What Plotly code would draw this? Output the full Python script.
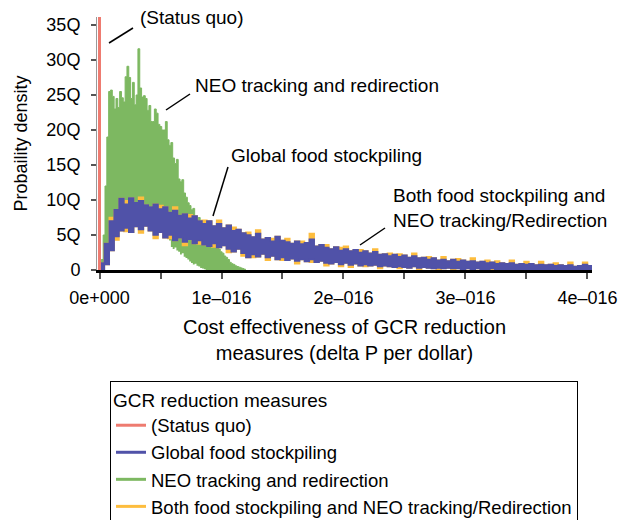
import plotly.graph_objects as go

# ---------------- data (density in units of Q = 1e15) ----------------
# Histogram bins: cost effectiveness (delta P per dollar)
neo_bin_start = 0.0
neo_bin_width = 1.5e-18
food_bin_start = 0.0
food_bin_width = 4e-18

# NEO tracking and redirection: upper / lower envelope of the jagged density
neo_upper = [0.3, 1.5, 5.0, 12.0, 19.0, 25.5, 25.7, 24.8, 23.0, 24.5,
             23.2, 25.5, 24.6, 24.0, 27.6, 29.1, 27.5, 24.5, 26.8, 23.6,
             25.0, 31.6, 26.0, 24.7, 24.9, 24.5, 22.8, 23.5, 21.2, 21.2,
             23.0, 22.4, 20.8, 20.5, 20.0, 20.0, 21.2, 18.6, 17.8, 18.2,
             16.0, 15.2, 15.8, 13.0, 12.6, 12.9, 11.0, 10.4, 9.6, 9.2,
             8.6, 8.8, 7.6, 7.2, 7.5, 6.8, 7.0, 6.2, 5.5, 5.2,
             4.8, 4.5, 4.8, 4.3, 3.3, 3.0, 2.6, 2.4, 2.0, 1.8,
             1.5, 1.1, 0.9, 0.8, 0.6, 0.5, 0.4, 0.3, 0.2, 0.1]
neo_lower = [0.0, 0.0, 0.0, 0.8, 1.0, 3.0, 3.0, 3.2, 5.0, 5.2,
             6.5, 6.8, 7.0, 6.8, 7.0, 7.0, 6.8, 7.0, 7.0, 6.8,
             7.0, 7.0, 7.0, 6.8, 6.8, 6.6, 6.6, 6.5, 6.3, 6.2,
             6.0, 6.0, 6.0, 6.0, 5.8, 5.8, 5.6, 5.6, 4.2, 3.3,
             3.0, 3.2, 2.8, 2.6, 2.2, 2.4, 1.9, 1.7, 1.5, 1.2,
             1.0, 0.8, 0.9, 0.6, 0.5, 0.3, 0.2, 0.1, 0.0, 0.0,
             0.0, 0.0, 0.0, 0.0, 0.0, 0.0, 0.0, 0.0, 0.0, 0.0,
             0.0, 0.0, 0.0, 0.0, 0.0, 0.0, 0.0, 0.0, 0.0, 0.0]

# Global food stockpiling
food_upper = [1.0, 3.8, 7.0, 8.6, 10.2, 9.4, 10.3, 9.6, 9.9, 9.3,
              9.0, 9.4, 8.7, 9.0, 8.2, 8.5, 7.8, 8.0, 7.4, 7.7,
              7.0, 6.6, 7.0, 6.3, 6.6, 6.0, 6.4, 5.6, 5.8, 5.3,
              5.0, 4.7, 5.2, 4.4, 4.6, 4.1, 4.8, 4.2, 4.0, 3.8,
              4.1, 3.7, 3.9, 4.4, 3.4, 3.6, 3.2, 3.0, 3.3, 2.8,
              3.0, 2.7, 2.9, 2.5, 2.7, 2.4, 2.6, 2.2, 2.3, 2.0,
              2.2, 1.9, 2.1, 1.8, 2.0, 1.7, 1.8, 1.5, 1.7, 1.4,
              1.5, 1.3, 1.5, 1.2, 1.4, 1.2, 1.3, 1.1, 1.2, 1.0,
              1.1, 0.9, 1.0, 0.9, 1.0, 0.8, 0.9, 0.8, 0.9, 0.7,
              0.8, 0.7, 0.8, 0.6, 0.7, 0.6, 0.7, 0.5, 0.6, 0.8,
              0.6]
food_lower = [0.0, 0.8, 2.8, 4.8, 5.6, 6.0, 5.4, 6.2, 5.8, 6.3,
              5.6, 5.0, 5.4, 4.6, 5.0, 4.2, 4.6, 4.0, 4.4, 3.8,
              4.2, 3.6, 3.4, 3.8, 3.2, 3.5, 3.0, 2.6, 3.0, 2.4,
              1.8, 2.2, 1.9, 2.3, 1.8, 2.0, 1.5, 1.8, 1.4, 1.6,
              1.3, 1.5, 1.2, 1.5, 1.1, 1.3, 1.0, 0.9, 1.1, 0.8,
              1.0, 0.7, 0.9, 0.6, 0.8, 0.6, 0.7, 0.5, 0.6, 0.5,
              0.4, 0.5, 0.4, 0.3, 0.5, 0.3, 0.4, 0.3, 0.2, 0.3,
              0.2, 0.3, 0.2, 0.2, 0.1, 0.2, 0.1, 0.2, 0.1, 0.1,
              0.2, 0.1, 0.1, 0.0, 0.1, 0.0, 0.1, 0.0, 0.1, 0.0,
              0.1, 0.0, 0.0, 0.0, 0.1, 0.0, 0.0, 0.0, 0.0, 0.0,
              0.0]

# Both food stockpiling and NEO tracking/Redirection
both_upper = [1.0, 3.8, 7.5, 8.6, 10.2, 9.9, 10.3, 9.6, 10.4, 9.3,
              9.0, 9.4, 9.2, 9.0, 8.2, 9.0, 7.8, 8.0, 7.9, 7.7,
              7.0, 7.1, 7.0, 6.3, 7.1, 6.0, 6.4, 6.1, 5.8, 5.3,
              5.4, 4.7, 5.7, 4.4, 4.6, 4.5, 4.8, 4.2, 4.5, 3.8,
              4.1, 4.1, 3.9, 5.2, 3.4, 3.6, 3.6, 3.0, 3.3, 3.2,
              3.4, 2.7, 2.9, 2.9, 2.7, 2.4, 3.0, 2.2, 2.3, 2.4,
              2.2, 2.3, 2.1, 1.8, 2.4, 1.7, 1.8, 1.9, 1.7, 1.4,
              1.9, 1.3, 1.5, 1.6, 1.4, 1.2, 1.7, 1.1, 1.2, 1.4,
              1.1, 1.3, 1.0, 0.9, 1.4, 0.8, 0.9, 1.2, 0.9, 0.7,
              1.2, 0.7, 0.8, 1.0, 0.7, 0.6, 1.1, 0.5, 0.6, 1.1,
              0.6]
both_lower = [0.0, 0.8, 2.8, 4.3, 5.6, 5.5, 5.4, 6.2, 5.3, 6.3,
              5.6, 4.5, 5.4, 4.6, 4.5, 4.2, 4.6, 3.5, 4.4, 3.8,
              3.7, 3.6, 3.4, 3.3, 3.2, 3.5, 2.5, 2.6, 3.0, 2.0,
              1.8, 1.8, 1.9, 2.3, 1.4, 2.0, 1.5, 1.4, 1.4, 1.6,
              0.9, 1.5, 1.2, 1.1, 1.1, 1.3, 0.6, 0.9, 1.1, 0.5,
              1.0, 0.4, 0.9, 0.6, 0.5, 0.6, 0.7, 0.2, 0.6, 0.5,
              0.4, 0.2, 0.4, 0.3, 0.5, 0.0, 0.4, 0.3, 0.2, 0.0,
              0.2, 0.3, 0.0, 0.2, 0.1, 0.2, 0.0, 0.2, 0.1, 0.1,
              0.0, 0.1, 0.1, 0.0, 0.1, 0.0, 0.0, 0.0, 0.1, 0.0,
              0.1, 0.0, 0.0, 0.0, 0.0, 0.0, 0.0, 0.0, 0.0, 0.0,
              0.0]

# Status quo: all mass at zero cost effectiveness (density off the scale)
status_quo_value = 0.0
status_quo_density = [0.0, 1000.0]

series_names = ["(Status quo)", "Global food stockpiling",
                "NEO tracking and redirection",
                "Both food stockpiling and NEO tracking/Redirection"]
y_tick_values = [0, 5, 10, 15, 20, 25, 30, 35]
y_tick_labels = ["0", "5Q", "10Q", "15Q", "20Q", "25Q", "30Q", "35Q"]
x_tick_values = [0.0, 0.5e-16, 1e-16, 1.5e-16, 2e-16, 2.5e-16, 3e-16, 3.5e-16, 4e-16]
x_tick_labels = ["0e+000", "", "1e\u2013016", "", "2e\u2013016", "", "3e\u2013016", "", "4e\u2013016"]

# ---------------- styling ----------------
C_RED = "#EE7B70"
C_BLUE = "#5052A8"
C_GREEN = "#7DB861"
C_ORANGE = "#FDBD3E"
FONT = "Liberation Sans, Arial, Helvetica, sans-serif"

W, H = 618, 520
ML, MR, MT, MB = 97, 26, 17, 250
PW, PH = W - ML - MR, H - MT - MB


def px2paper(px, py):
    return (px - ML) / PW, (H - MB - py) / PH


def steps(values, start, width):
    xs = [start + i * width for i in range(len(values) + 1)]
    ys = list(values) + [values[-1]]
    return xs, ys


fig = go.Figure()


def band(lower, upper, start, width, color, lw_low, lw_up):
    xl, yl = steps(lower, start, width)
    xu, yu = steps(upper, start, width)
    fig.add_trace(go.Scatter(x=xl, y=yl, mode="lines", line=dict(color=color, width=lw_low, shape="hv"),
                             showlegend=False, hoverinfo="skip"))
    fig.add_trace(go.Scatter(x=xu, y=yu, mode="lines", line=dict(color=color, width=lw_up, shape="hv"),
                             fill="tonexty", fillcolor=color, showlegend=False, hoverinfo="skip"))


band(neo_lower, neo_upper, neo_bin_start, neo_bin_width, C_GREEN, 0, 1)
band(both_lower, both_upper, food_bin_start, food_bin_width, C_ORANGE, 1.5, 1.5)
band(food_lower, food_upper, food_bin_start, food_bin_width, C_BLUE, 1.5, 1.5)

fig.add_trace(go.Scatter(x=[status_quo_value, status_quo_value], y=status_quo_density, mode="lines",
                         line=dict(color=C_RED, width=3), showlegend=False, hoverinfo="skip"))

# legend entries
for name, col in zip(series_names, [C_RED, C_BLUE, C_GREEN, C_ORANGE]):
    fig.add_trace(go.Scatter(x=[None], y=[None], mode="lines", name=name,
                             line=dict(color=col, width=3), showlegend=True))

# annotations (callout labels)
callouts = [
    ("(Status quo)", (138, 17), ((109, 43), (133, 28))),
    ("NEO tracking and redirection", (193, 85), ((166, 110), (190, 94))),
    ("Global food stockpiling", (229, 156), ((213, 216), (228, 167))),
    ("Both food stockpiling and<br>NEO tracking/Redirection", (391, 208), ((360, 245), (385, 228))),
]
for text, (tx, ty), ((x0, y0), (x1, y1)) in callouts:
    ax_, ay_ = px2paper(tx, ty)
    fig.add_annotation(x=ax_, y=ay_, xref="paper", yref="paper", text=text, showarrow=False,
                       xanchor="left", yanchor="middle", align="left",
                       font=dict(size=19, family=FONT, color="black"))
    p0 = px2paper(x0, y0)
    p1 = px2paper(x1, y1)
    fig.add_shape(type="line", xref="paper", yref="paper", x0=p0[0], y0=p0[1], x1=p1[0], y1=p1[1],
                  line=dict(color="black", width=1.5))

lx, ly = px2paper(110, 381)
fig.update_layout(
    width=W, height=H,
    margin=dict(l=ML, r=MR, t=MT, b=MB, autoexpand=False),
    plot_bgcolor="white", paper_bgcolor="white",
    font=dict(family=FONT, size=18, color="black"),
    xaxis=dict(range=[-2.5 / 122 * 1e-16, 4.037e-16], tickmode="array", tickvals=x_tick_values,
               ticktext=x_tick_labels, ticks="outside", ticklen=6, tickwidth=1.5, tickcolor="#555555",
               showline=True, linecolor="black", linewidth=3, showgrid=False, zeroline=False,
               layer="below traces", tickfont=dict(size=18), automargin=False, ticklabelstandoff=3,
               title=dict(text="Cost effectiveness of GCR reduction<br>measures (delta P per dollar)",
                          font=dict(size=20), standoff=14)),
    yaxis=dict(range=[0, 36.14], tickmode="array", tickvals=y_tick_values, ticktext=y_tick_labels,
               ticks="outside", ticklen=5, tickwidth=1.5, tickcolor="#555555",
               showline=True, linecolor="#999999", linewidth=1, showgrid=False, zeroline=False,
               tickfont=dict(size=18), automargin=False, ticklabelstandoff=7,
               title=dict(text="Probaility density", font=dict(size=18), standoff=14)),
    legend=dict(x=lx, y=ly, xanchor="left", yanchor="top", bgcolor="white",
                bordercolor="black", borderwidth=1, traceorder="normal",
                title=dict(text="GCR reduction measures", font=dict(size=19)),
                font=dict(size=18.5)),
    showlegend=True,
)

fig.write_html("out.html", config={"displayModeBar": False},
               post_script="document.body.style.margin='0';")
